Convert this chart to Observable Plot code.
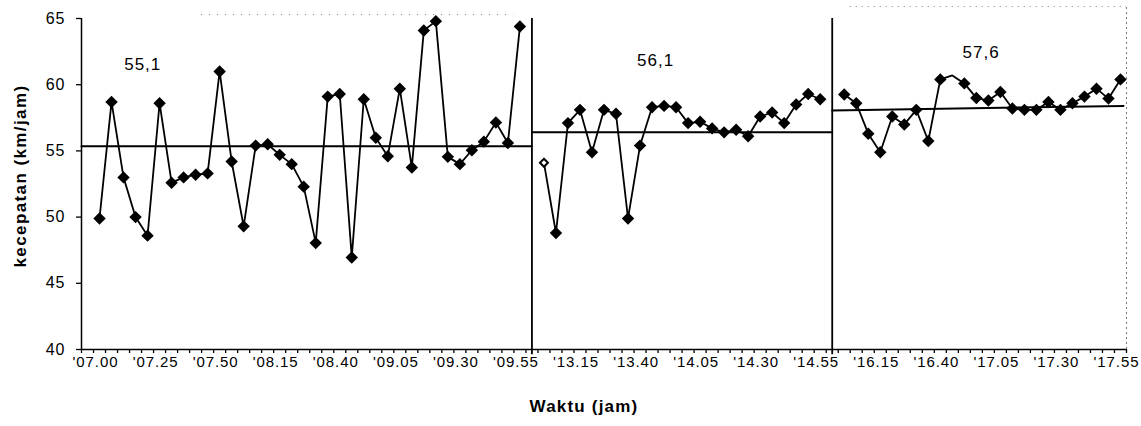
<!DOCTYPE html>
<html>
<head>
<meta charset="utf-8">
<script src="https://cdn.jsdelivr.net/npm/d3@7"></script>
<script src="https://cdn.jsdelivr.net/npm/@observablehq/plot@0.6"></script>
<style>
  body { margin: 0; background: #fff; }
  svg { display: block; }
  g[aria-label="x-axis tick label"] text { letter-spacing: 0.9px; }
  g[aria-label="y-axis tick label"] text { letter-spacing: 1px; }
</style>
</head>
<body>
<div id="chart"></div>
<script>
// ---- data ----
const sessionStarts = ["07.00", "13.00", "16.00"];

const speedMorning = [49.9, 58.7, 53.0, 50.0, 48.6, 58.6, 52.6, 53.0, 53.2, 53.3, 61.0, 54.2,
  49.3, 55.4, 55.5, 54.7, 54.0, 52.3, 48.05, 59.1, 59.3, 46.95, 58.9, 56.0,
  54.6, 59.7, 53.75, 64.1, 64.8, 54.55, 54.0, 55.05, 55.7, 57.15, 55.6, 64.4];

const speedMidday = [54.1, 48.8, 57.1, 58.1, 54.9, 58.1, 57.8, 49.9, 55.4, 58.3, 58.4, 58.3,
  57.1, 57.2, 56.7, 56.4, 56.6, 56.1, 57.6, 57.9, 57.1, 58.5, 59.3, 58.9];

const speedAfternoon = [59.26, 58.6, 56.3, 54.9, 57.6, 57.0, 58.1, 55.75, 60.4, 60.7, 60.1, 59.0,
  58.8, 59.45, 58.2, 58.1, 58.1, 58.7, 58.1, 58.6, 59.1, 59.7, 58.95, 60.4];

const meanLabels = ["55,1", "56,1", "57,6"];
const meanLineStart = [55.35, 56.4, 58.05];
const meanLineEnd = [55.35, 56.4, 58.4];

const tickLabels = ["'07.00", "'07.25", "'07.50", "'08.15", "'08.40", "'09.05", "'09.30", "'09.55",
  "'13.15", "'13.40", "'14.05", "'14.30", "'14.55", "'16.15", "'16.40", "'17.05", "'17.30", "'17.55"];

const yTicks = [40, 45, 50, 55, 60, 65];

const yTitle = "kecepatan (km/jam)";
const xTitle = "Waktu (jam)";

// ---- build category axis (5-minute steps, one empty slot before each session) ----
function addMinutes(t, m) {
  const [h, mm] = t.split(".").map(Number);
  const tot = h * 60 + mm + m;
  return String(Math.floor(tot / 60)).padStart(2, "0") + "." + String(tot % 60).padStart(2, "0");
}
const sessions = [speedMorning, speedMidday, speedAfternoon];
const categories = [];
const points = [];
const gapIndex = [];
sessions.forEach((vals, s) => {
  gapIndex.push(categories.length);
  categories.push("gap" + s);
  vals.forEach((v, i) => {
    const t = addMinutes(sessionStarts[s], 5 * i);
    points.push({session: s, i, time: t, x: categories.length, y: v});
    categories.push(t);
  });
});
const xMin = -0.5, xMax = categories.length - 0.5;
const lastIdx = categories.length - 1;

const meanSegs = [];
sessions.forEach((vals, s) => {
  const x1 = s === 0 ? xMin : gapIndex[s];
  const x2 = s < 2 ? gapIndex[s + 1] : lastIdx + 0.25;
  meanSegs.push({session: s, x: x1, y: meanLineStart[s]});
  meanSegs.push({session: s, x: x2, y: meanLineEnd[s]});
});

const labelAnn = [
  {x: 4.6, y: 61.5, text: meanLabels[0]},
  {x: 47.3, y: 61.85, text: meanLabels[1]},
  {x: 74.4, y: 62.45, text: meanLabels[2]}
];

const labelTicks = tickLabels.map(l => ({idx: categories.indexOf(l.slice(1)), label: l}));
const labelByIdx = new Map(labelTicks.map(d => [d.idx, d.label]));
const boundaryTicks = d3.range(0, categories.length + 1).map(i => i - 0.5);

const isHollow = d => d.session === 1 && d.i === 0;
const isHidden = d => d.session === 2 && d.i === 9;

const chart = Plot.plot({
  width: 1141,
  height: 426,
  marginLeft: 81,
  marginRight: 15,
  marginTop: 18,
  marginBottom: 77,
  style: {fontFamily: "Arial, 'Liberation Sans', sans-serif", color: "#000", background: "#fff", overflow: "visible"},
  x: {type: "linear", domain: [xMin, xMax], axis: null, label: null},
  y: {domain: [40, 65], axis: null, label: null},
  marks: [
    // faint scan frame remnants
    Plot.ruleX([xMax], {y1: 40, y2: 65.9, stroke: "#777", strokeWidth: 1, strokeDasharray: "2,3"}),
    Plot.ruleY([65.9], {x1: gapIndex[2] + 1.5, x2: xMax, stroke: "#777", strokeWidth: 1, strokeDasharray: "1,5"}),
    Plot.ruleY([65.3], {x1: 9.5, x2: 35.5, stroke: "#777", strokeWidth: 1, strokeDasharray: "1,7"}),
    // axis lines
    Plot.ruleY([40], {x1: xMin, x2: xMax, stroke: "#000", strokeWidth: 1.5}),
    Plot.ruleX([xMin], {y1: 40, y2: 65, stroke: "#000", strokeWidth: 1.5}),
    Plot.axisY(yTicks, {label: null, tickSize: 5, tickPadding: 11, fontSize: 16, tickFormat: d => String(d), strokeWidth: 1.3}),
    Plot.axisX(boundaryTicks, {label: null, tickSize: 4, tickFormat: () => "", strokeWidth: 1.3}),
    Plot.axisX(labelTicks.map(d => d.idx), {label: null, tickSize: 0, tickPadding: 7, fontSize: 15, dx: -4, tickFormat: i => labelByIdx.get(i)}),
    // session dividers
    Plot.ruleX([gapIndex[1], gapIndex[2]], {y1: 39.6, y2: 65, stroke: "#000", strokeWidth: 1.8}),
    // mean lines
    Plot.line(meanSegs, {x: "x", y: "y", z: "session", stroke: "#000", strokeWidth: 2}),
    // series
    Plot.line(points, {x: "x", y: "y", z: "session", stroke: "#000", strokeWidth: 1.8}),
    Plot.dot(points.filter(d => !isHollow(d) && !isHidden(d)), {x: "x", y: "y", symbol: "diamond2", r: 5.6, fill: "#000", stroke: "none"}),
    Plot.dot(points.filter(isHollow), {x: "x", y: "y", symbol: "diamond2", r: 3.6, fill: "#fff", stroke: "#000", strokeWidth: 2}),
    // annotations
    Plot.text(labelAnn, {x: "x", y: "y", text: "text", fontSize: 17, fill: "#000"}),
    Plot.text([yTitle], {text: d => d, frameAnchor: "left", rotate: -90, dx: -61, dy: -8,
      textAnchor: "middle", lineAnchor: "middle", fontSize: 17, fontWeight: "bold", fill: "#000"}),
    Plot.text([xTitle], {text: d => d, frameAnchor: "bottom", dx: -20, dy: 57,
      textAnchor: "middle", lineAnchor: "middle", fontSize: 17, fontWeight: "bold", fill: "#000"})
  ]
});
d3.select(chart).selectAll("text")
  .filter(function () { return this.textContent === yTitle; })
  .style("letter-spacing", "1.4px");
d3.select(chart).selectAll("text")
  .filter(function () { return this.textContent === xTitle; })
  .style("letter-spacing", "1.2px");
d3.select(chart).selectAll("text")
  .filter(function () { return meanLabels.includes(this.textContent); })
  .style("letter-spacing", "1px");
document.getElementById("chart").appendChild(chart);
</script>
</body>
</html>
